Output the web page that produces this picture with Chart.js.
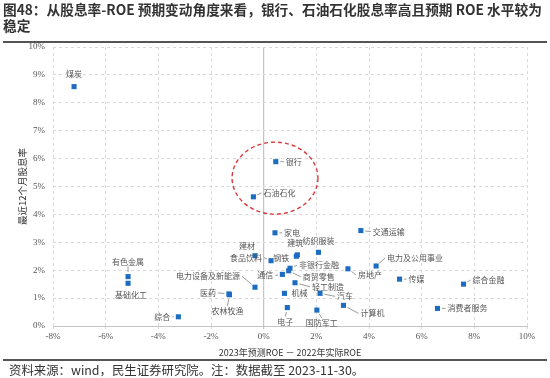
<!DOCTYPE html>
<html>
<head>
<meta charset="utf-8">
<script src="https://cdn.jsdelivr.net/npm/chart.js@4"></script>
<style>
  body { margin: 0; background: #fff; }
  #wrap { position: relative; width: 550px; height: 378px; overflow: hidden; }
  canvas { position: absolute; left: 0; top: 0; }
  .title {
    position: absolute; left: 3px; top: 1px; width: 546px; white-space: nowrap;
    font: bold 13.7px "Noto Sans CJK SC", sans-serif; line-height: 16px; color: #333;
  }
  .rule { position: absolute; left: 3px; width: 544px; height: 2px; background: #555; }
  .source {
    position: absolute; left: 9px; top: 361px;
    font: 12.4px "Noto Sans CJK SC", sans-serif; color: #333;
  }
</style>
</head>
<body>
<div id="wrap">
  <canvas id="scatterChart" width="550" height="378"></canvas>
  <div class="title">图48：从股息率-ROE 预期变动角度来看，银行、石油石化股息率高且预期 ROE 水平较为<br>稳定</div>
  <div class="rule" style="top:41px"></div>
  <div class="rule" style="top:359px"></div>
  <div class="source">资料来源：wind，民生证券研究院。注：数据截至 2023-11-30。</div>
</div>
<script>
// industries, ROE change (x, %) and trailing 12m dividend yield (y, %)
const industries = ['煤炭', '有色金属', '基础化工', '综合', '医药', '农林牧渔', '电力设备及新能源', '建材',
  '食品饮料', '家电', '银行', '石油石化', '建筑', '钢铁', '纺织服装', '非银行金融', '商贸零售', '通信',
  '轻工制造', '机械', '汽车', '电子', '国防军工', '计算机', '交通运输', '房地产', '电力及公用事业',
  '传媒', '综合金融', '消费者服务'];
const roeChange = [-7.2, -5.15, -5.15, -3.24, -1.32, -1.3, -0.33, -0.33,
  0.28, 0.43, 0.46, -0.39, 1.28, 1.24, 2.08, 1.0, 0.95, 0.71,
  1.19, 0.79, 2.14, 0.9, 2.02, 3.03, 3.69, 3.2, 4.27,
  5.16, 7.59, 6.6];
const dividendYield = [8.58, 1.77, 1.53, 0.33, 1.15, 1.12, 1.39, 2.52,
  2.34, 3.34, 5.89, 4.63, 2.55, 2.5, 2.64, 2.07, 1.98, 1.85,
  1.55, 1.17, 1.17, 0.66, 0.57, 0.74, 3.42, 2.05, 2.15,
  1.68, 1.5, 0.63];
const xTicks = [-8, -6, -4, -2, 0, 2, 4, 6, 8, 10];

// label placement: [dx, dy, align, leader]
const labelPos = [
  [0, -13, 'center', false], [0, -15, 'center', true], [3, 12, 'center', false], [-8, 0, 'right', true],
  [-13, -1, 'right', true], [-2, 16, 'center', true], [-15, -11, 'right', true], [-8, -10, 'center', false],
  [-9, -3, 'right', true], [9, 0, 'left', true], [10, 0, 'left', true], [10, -4, 'left', true],
  [-2, -12, 'center', false], [-7, 2, 'right', false], [0, -11, 'center', false], [9, -3, 'left', true],
  [14, 6, 'left', true], [-9, 1, 'right', true], [17, 4, 'left', true], [7, 0, 'left', false],
  [17, 3, 'left', true], [-2, 14, 'center', true], [5, 13, 'center', true], [17, 8, 'left', true],
  [12, 1, 'left', true], [10, 6, 'left', true], [11, -8, 'left', true], [9, 0, 'left', true],
  [9, -4, 'left', true], [10, 0, 'left', true]
];

const tickFont = { family: '"Liberation Serif", serif', size: 9 };

const labelPlugin = {
  id: 'pointLabels',
  afterDatasetsDraw(chart) {
    const ctx = chart.ctx;
    const xs = chart.scales.x, ys = chart.scales.y;
    // red dashed ellipse round 银行 / 石油石化
    ctx.save();
    ctx.strokeStyle = '#d9383a';
    ctx.lineWidth = 1.4;
    ctx.setLineDash([4, 3]);
    const cx = xs.getPixelForValue(0.43), cy = ys.getPixelForValue(5.3);
    const rx = xs.getPixelForValue(0.43 + 1.63) - cx;
    const ry = cy - ys.getPixelForValue(5.3 + 1.29);
    ctx.beginPath();
    ctx.ellipse(cx, cy, rx, ry, 0, 0, Math.PI * 2);
    ctx.stroke();
    ctx.restore();

    const meta = chart.getDatasetMeta(0);
    ctx.save();
    ctx.font = '8px "Noto Sans CJK SC", sans-serif';
    ctx.textBaseline = 'middle';
    meta.data.forEach((pt, i) => {
      const [dx, dy, align, leader] = labelPos[i];
      const lx = pt.x + dx, ly = pt.y + dy;
      if (leader) {
        let ax = lx, ay = ly;
        if (align === 'left') ax -= 2;
        else if (align === 'right') ax += 2;
        else ay += dy < 0 ? 5 : -5;
        const vx = ax - pt.x, vy = ay - pt.y;
        const len = Math.hypot(vx, vy) || 1;
        ctx.strokeStyle = '#808080';
        ctx.lineWidth = 0.8;
        ctx.beginPath();
        ctx.moveTo(pt.x + vx / len * 4.5, pt.y + vy / len * 4.5);
        ctx.lineTo(ax, ay);
        ctx.stroke();
      }
      ctx.fillStyle = '#555';
      ctx.textAlign = align;
      ctx.fillText(industries[i], lx, ly);
    });
    ctx.restore();
  }
};

const ctx = document.getElementById('scatterChart').getContext('2d');
new Chart(ctx, {
  type: 'scatter',
  data: {
    datasets: [{
      data: industries.map((n, i) => ({ x: roeChange[i], y: dividendYield[i] })),
      pointStyle: 'rect',
      pointRadius: 3.6,
      backgroundColor: '#1c6dc1',
      borderColor: '#1c6dc1',
      borderWidth: 0
    }]
  },
  options: {
    responsive: false,
    animation: false,
    layout: { padding: { top: 47, right: 23, bottom: 18, left: 0 } },
    plugins: { legend: { display: false }, tooltip: { enabled: false } },
    scales: {
      x: {
        type: 'linear',
        min: -8, max: 10,
        afterBuildTicks: s => { s.ticks = xTicks.map(v => ({ value: v })); },
        ticks: { callback: v => v + '%', font: tickFont, color: '#555', padding: 2, maxRotation: 0 },
        grid: {
          color: c => (c.tick && c.tick.value === 0) ? '#c4c4c4' : '#d9d9d9',
          lineWidth: c => (c.tick && c.tick.value === 0) ? 1.2 : 1,
          tickLength: 3
        },
        border: {
          display: true, color: '#c4c4c4', width: 1,
          dash: c => (c.tick && c.tick.value === 0) ? [] : [3, 3]
        },
        title: {
          display: true, text: '2023年预测ROE － 2022年实际ROE',
          font: { family: '"Noto Sans CJK SC", sans-serif', size: 9 }, color: '#333',
          padding: { top: 2, bottom: 2 }
        },
        afterFit: s => { s.height = 34; }
      },
      y: {
        min: 0, max: 10,
        ticks: { stepSize: 1, callback: v => v + '%', font: tickFont, color: '#555', padding: 8 },
        grid: { color: '#d9d9d9', drawTicks: false },
        border: { display: false, dash: [3, 3] },
        title: {
          display: true, text: '最近12个月股息率',
          font: { family: '"Noto Sans CJK SC", sans-serif', size: 9.5 }, color: '#333',
          padding: { top: 17, bottom: 0 }
        },
        afterFit: s => { s.width = 53; }
      }
    }
  },
  plugins: [labelPlugin]
});
</script>
</body>
</html>
